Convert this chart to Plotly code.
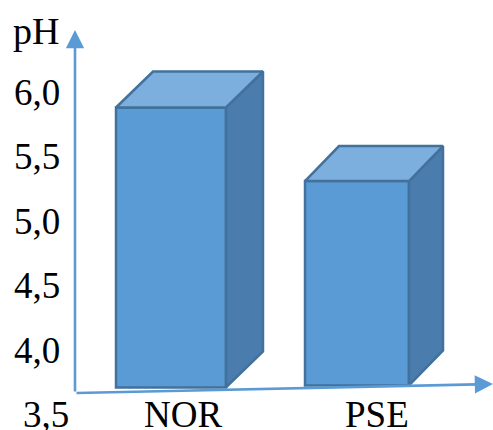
import plotly.graph_objects as go

categories = ["NOR", "PSE"]
ph_values = [5.88, 5.31]
bar_bases = [3.71, 3.725]
tick_values = [6.0, 5.5, 5.0, 4.5, 4.0, 3.5]
tick_labels = ["6,0", "5,5", "5,0", "4,5", "4,0", "3,5"]
y_title = "pH"

W, H = 493, 430
PX_PER_UNIT = 129.0
Y_TOP = 4.0 + 350 / PX_PER_UNIT
Y_BOT = 4.0 - (H - 350) / PX_PER_UNIT

FRONT, TOP, SIDE, EDGE, AXIS = "#5B9BD5", "#7CAFDE", "#4A7DAD", "#41719C", "#5B9BD5"
FONT = "Liberation Serif"
FS = 37

bar_left = [116, 305]
bar_right = [226, 409]
depth_x = [37, 34]
depth_y_px = [36, 35]
label_x = [183, 377]

fig = go.Figure()
for i, cat in enumerate(categories):
    x0, x1 = bar_left[i], bar_right[i]
    v, b = ph_values[i], bar_bases[i]
    dx, dy = depth_x[i], depth_y_px[i] / PX_PER_UNIT
    fig.add_trace(go.Scatter(
        x=[x1, x1 + dx, x1 + dx, x1, x1], y=[b, b + dy, v + dy, v, b],
        mode="lines", fill="toself", fillcolor=SIDE,
        line=dict(color=EDGE, width=2.5), hoverinfo="skip", showlegend=False))
    fig.add_trace(go.Scatter(
        x=[x0, x0 + dx, x1 + dx, x1, x0], y=[v, v + dy, v + dy, v, v],
        mode="lines", fill="toself", fillcolor=TOP,
        line=dict(color=EDGE, width=2.5), hoverinfo="skip", showlegend=False))
    fig.add_trace(go.Bar(
        x=[(x0 + x1) / 2], y=[v - b], base=[b], width=[x1 - x0], name=cat,
        marker=dict(color=FRONT, line=dict(color=EDGE, width=2.5)), showlegend=False))

annotations = []
for val, lab in zip(tick_values, tick_labels):
    low = lab == "3,5"
    annotations.append(dict(x=46 if low else 37, y=val, text=lab, showarrow=False,
                            font=dict(family=FONT, size=FS, color="#000000")))
for xp, cat in zip(label_x, categories):
    annotations.append(dict(x=xp, y=Y_TOP - 414.5 / PX_PER_UNIT, text=cat, showarrow=False,
                            font=dict(family=FONT, size=FS, color="#000000")))
annotations.append(dict(x=36, y=Y_TOP - 31 / PX_PER_UNIT, text=y_title, showarrow=False,
                        font=dict(family=FONT, size=FS + 1, color="#000000")))

origin_y = Y_TOP - 393 / PX_PER_UNIT
for tx, ty in [(75, Y_TOP - 30 / PX_PER_UNIT), (493, Y_TOP - 384 / PX_PER_UNIT)]:
    annotations.append(dict(x=tx, y=ty, ax=75, ay=origin_y, xref="x", yref="y", axref="x", ayref="y",
                            text="", showarrow=True, arrowhead=2, arrowsize=1.4, arrowwidth=2.6,
                            arrowcolor=AXIS, standoff=0))

fig.update_layout(
    width=W, height=H, margin=dict(l=0, r=0, t=0, b=0), autosize=False,
    paper_bgcolor="white", plot_bgcolor="white", annotations=annotations,
    xaxis=dict(range=[0, W], visible=False, fixedrange=True),
    yaxis=dict(range=[Y_BOT, Y_TOP], visible=False, fixedrange=True),
)
fig.write_html("out.html", config=dict(displayModeBar=False),
               post_script="document.body.style.margin='0';document.body.style.overflow='hidden';")
